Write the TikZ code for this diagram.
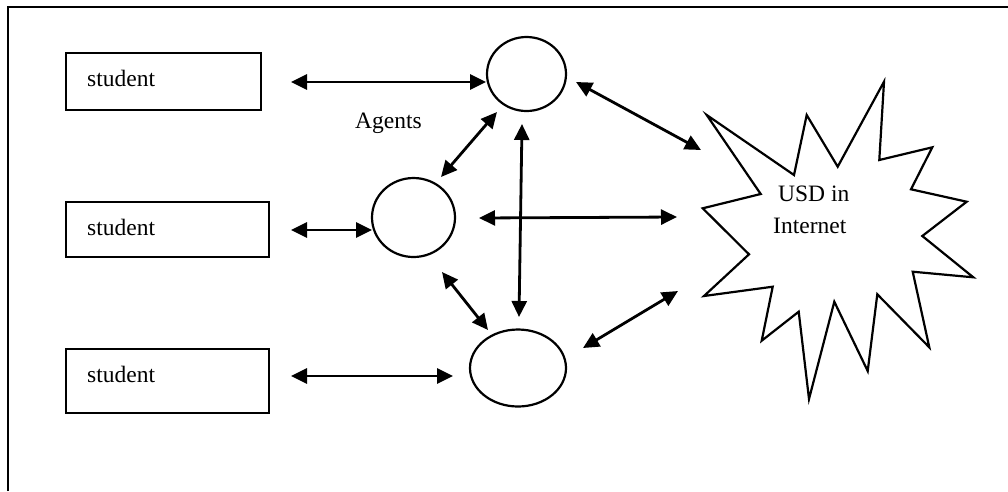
\documentclass[tikz,border=0pt]{standalone}
\usepackage{fontspec}
\setmainfont{Liberation Serif}
\usetikzlibrary{arrows.meta,shapes.geometric}
\begin{document}
\begin{tikzpicture}[x=1pt,y=-1pt,
  lbl/.style={font=\fontsize{23.5}{26}\selectfont, inner sep=0pt, anchor=base west},
  box/.style={draw, line width=2pt},
  agent/.style={draw, ellipse, line width=2.2pt, inner sep=0pt},
  link/.style={line width=2.8pt, {Triangle[length=16pt,width=15pt]}-{Triangle[length=16pt,width=15pt]}},
  star/.style={draw, line width=2.2pt, line join=miter}
]
\useasboundingbox (0,0) rectangle (1008,491);
% frame
\draw[line width=2pt] (7.5,491) -- (7.5,6.5) -- (1008,6.5);
% student boxes
\draw[box] (65.7,53.3) rectangle (260.7,110);
\draw[box] (65.7,202) rectangle (269,257);
\draw[box] (65.7,349.3) rectangle (269,412.7);
\node[lbl] (t1) at (87,86.5) {student};
\node[lbl] (t2) at (87,235) {student};
\node[lbl] (t3) at (87,382) {student};
% agents
\node[agent, minimum width=79pt, minimum height=74pt] (a1) at (526.5,74) {};
\node[agent, minimum width=83pt, minimum height=79pt] (a2) at (413.5,217.5) {};
\node[agent, minimum width=96pt, minimum height=77pt] (a3) at (518,368) {};
\node[lbl] (ag) at (355,128) {Agents};
% star
\draw[star] (706.7,115) -- (794,175) -- (806.7,115) -- (837.7,166.7) -- (884,81.7)
  -- (879.3,160) -- (932.3,147.3) -- (911,189.3) -- (966.7,201.7) -- (922.3,236)
  -- (973.3,277.3) -- (912.7,271.7) -- (929.3,347.3) -- (877.3,294.3) -- (867.7,371)
  -- (834.3,301.7) -- (809,399) -- (798.7,311.7) -- (761.7,340.7) -- (772.7,286.7)
  -- (704,296) -- (749,254.3) -- (702.7,208.3) -- (760.7,194) -- cycle;
\node[lbl] (u1) at (778,201.5) {USD in};
\node[lbl] (u2) at (773,233) {Internet};
% arrow end points
\coordinate (p1a) at (291,82);   \coordinate (p1b) at (486,82);
\coordinate (p2a) at (497,112);  \coordinate (p2b) at (441,177);
\coordinate (p3a) at (522,124);  \coordinate (p3b) at (519,317);
\coordinate (p4a) at (576,82);   \coordinate (p4b) at (701,150);
\coordinate (p5a) at (479,218);  \coordinate (p5b) at (677,217);
\coordinate (p6a) at (442,272);  \coordinate (p6b) at (488,330);
\coordinate (p7a) at (583,348);  \coordinate (p7b) at (678,291);
\coordinate (p8a) at (291,230);  \coordinate (p8b) at (372,230);
\coordinate (p9a) at (291,376);  \coordinate (p9b) at (453,376);
\draw[link] (p1a) -- (p1b);
\draw[link] (p2a) -- (p2b);
\draw[link] (p3a) -- (p3b);
\draw[link] (p4a) -- (p4b);
\draw[link] (p5a) -- (p5b);
\draw[link] (p6a) -- (p6b);
\draw[link] (p7a) -- (p7b);
\draw[link] (p8a) -- (p8b);
\draw[link] (p9a) -- (p9b);
\end{tikzpicture}
\end{document}
